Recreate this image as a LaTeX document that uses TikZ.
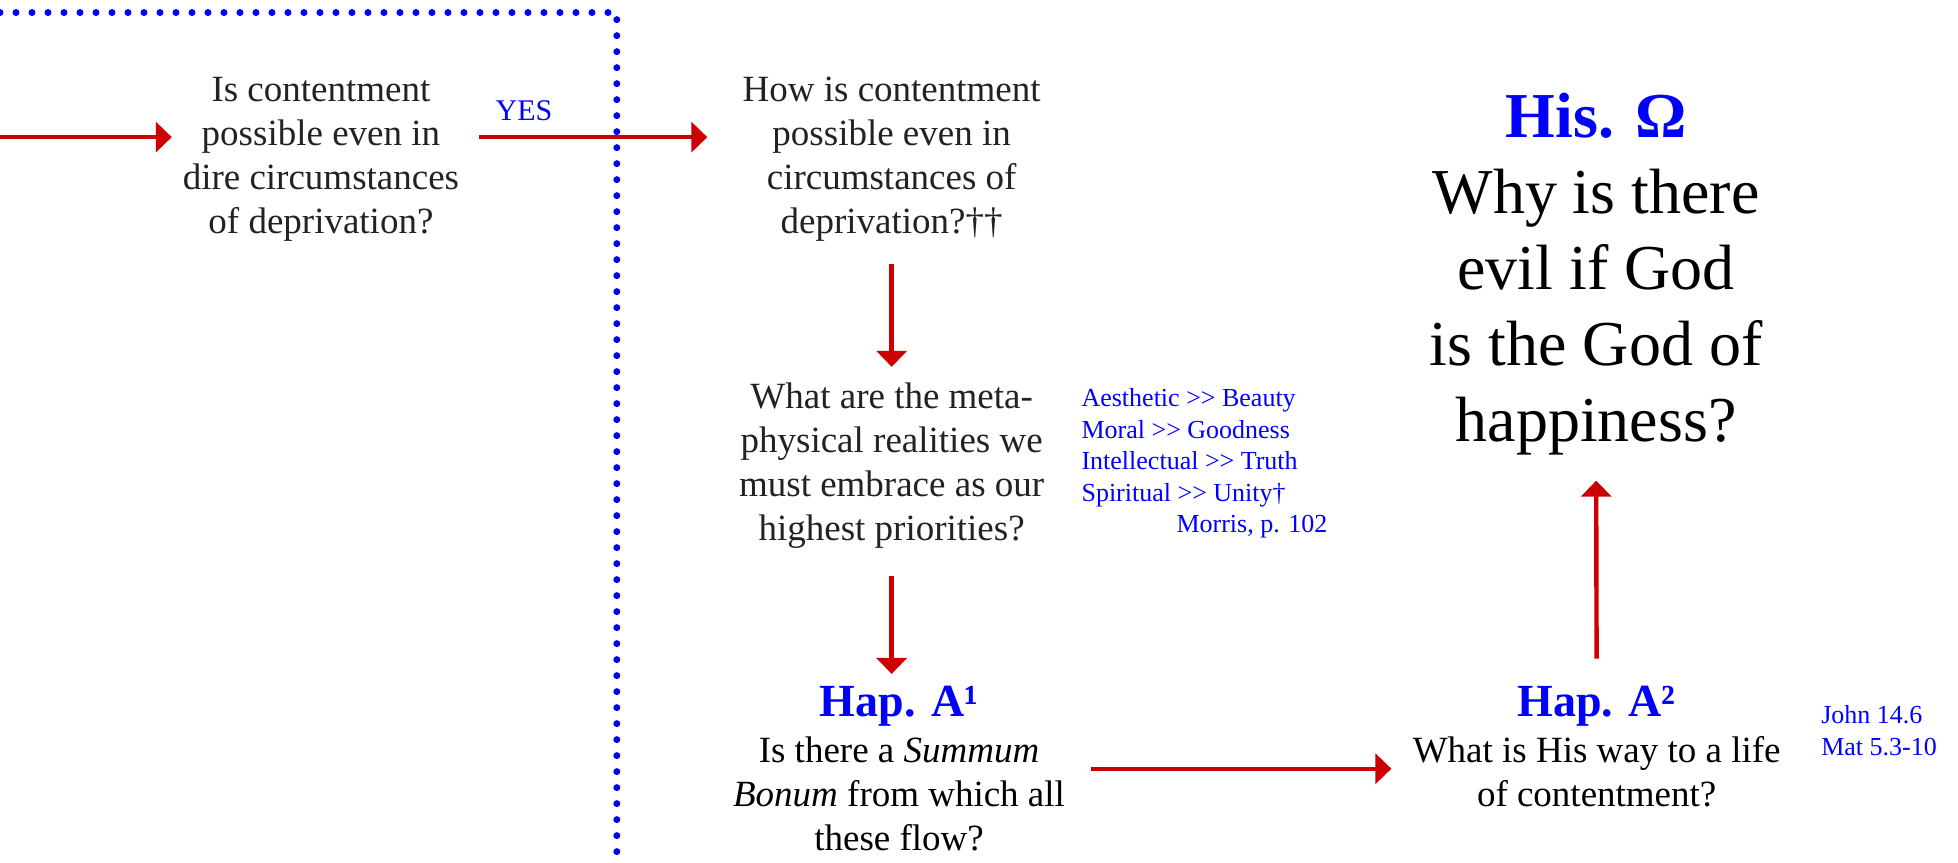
\documentclass[tikz,border=0pt]{standalone}
\usepackage{fontspec}
\setmainfont{Liberation Serif}
\usepackage{tikz}
\usetikzlibrary{positioning, calc, arrows.meta}

\definecolor{flowRed}{RGB}{204, 0, 0}
\definecolor{noteBlue}{RGB}{0, 0, 255}
\definecolor{textGrey}{RGB}{34, 34, 34}
\newcommand{\gtgt}{>\kern0pt>}

\begin{document}
\begin{tikzpicture}[
    question/.style={align=center, inner sep=0pt, text=textGrey,
                     font=\fontsize{18.5}{22}\selectfont},
    bigquestion/.style={align=center, inner sep=0pt,
                        font=\fontsize{32}{38}\selectfont},
    refnote/.style={align=left, inner sep=0pt, anchor=north west,
                    text=noteBlue, font=\fontsize{13}{15.8}\selectfont},
    flow/.style={draw=flowRed, line width=2.2pt,
                 -{Triangle[length=8pt, width=15pt]}},
    border/.style={draw=noteBlue, line width=3.5pt, line cap=round,
                   dash pattern=on 0pt off 8pt},
  ]
    \useasboundingbox (0,0) rectangle (34.41,-15.15);

    % dotted frame of the first step
    \draw[border] (0,-0.22) -- (10.84,-0.22) -- (10.84,-15.15);

    % first question
    \coordinate (entry) at (0,-2.41);
    \node[question] (dire) at (5.64,-2.80) {
      Is contentment\\
      possible even in\\
      dire circumstances\\
      of deprivation?
    };
    \node[refnote, anchor=base, font=\fontsize{15}{18}\selectfont] (yes) at (9.21,-2.11) {YES};

    % middle column
    \node[question] (how) at (15.67,-2.79) {
      How is contentment\\
      possible even in\\
      circumstances of\\
      deprivation?††
    };
    \node[question] (meta) at (15.67,-8.19) {
      What are the meta-\\
      physical realities we\\
      must embrace as our\\
      highest priorities?
    };
    \node[refnote] (morris) at (19.00,-6.82) {
      Aesthetic \gtgt{} Beauty\\
      Moral \gtgt{} Goodness\\
      Intellectual \gtgt{} Truth\\
      Spiritual \gtgt{} Unity†\\
      \hspace*{47.5pt}Morris, p. 102
    };
    \node[question, text=black] (hapA) at (15.80,-13.51) {
      {\color{noteBlue}\fontsize{23}{22}\selectfont\bfseries Hap. A¹}\\[1pt]
      Is there a \textit{Summum}\\
      \textit{Bonum} from which all\\
      these flow?
    };

    % right column
    \node[question, text=black] (hapB) at (28.06,-13.12) {
      {\color{noteBlue}\fontsize{23}{22}\selectfont\bfseries Hap. A²}\\[1pt]
      What is His way to a life\\
      of contentment?
    };
    \node[refnote] (john) at (32.00,-12.39) {
      John 14.6\\
      Mat 5.3-10
    };
    \node[bigquestion] (omega) at (28.05,-4.82) {
      {\color{noteBlue}\bfseries His. Ω}\\
      Why is there\\
      evil if God\\
      is the God of\\
      happiness?
    };

    % arrows
    \draw[flow, shorten >=5.3pt] (entry) -- (entry -| dire.west);
    \draw[flow, shorten <=10pt, shorten >=17.5pt] (entry -| dire.east) -- (entry -| how.west);
    \draw[flow, shorten <=11.5pt, shorten >=8pt] (how.south) -- (meta.north);
    \draw[flow, shorten <=13.4pt, shorten >=6pt] (meta.south) -- (meta.south |- hapA.north);
    \draw[flow, shorten <=13pt, shorten >=10.5pt] (hapA.east) -- (hapA.east -| hapB.west);
    \draw[flow, shorten <=13.5pt, shorten >=12.5pt] (hapB.north) -- (omega.south);
  \end{tikzpicture}
\end{document}
